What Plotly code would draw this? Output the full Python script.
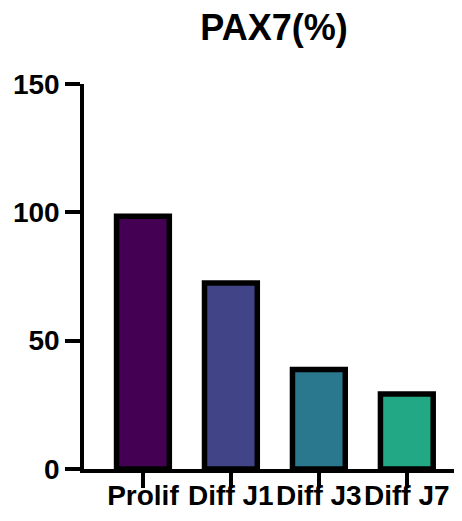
import plotly.graph_objects as go

# PAX7 percentage per condition
conditions = ["Prolif", "Diff J1", "Diff J3", "Diff J7"]
pax7_pct = [98.5, 72.5, 38.8, 29.2]
bar_colors = ["#440154", "#414487", "#2A788E", "#22A884"]
y_ticks = [0, 50, 100, 150]

font_fam = "Arial, Liberation Sans, sans-serif"

fig = go.Figure()
fig.add_trace(go.Bar(
    x=conditions,
    y=pax7_pct,
    width=0.6,
    marker=dict(color=bar_colors, line=dict(color="black", width=5.5)),
    hoverinfo="skip",
))

fig.update_layout(
    width=462, height=521,
    margin=dict(l=76, r=6, t=76, b=60, autoexpand=False),
    plot_bgcolor="white",
    paper_bgcolor="white",
    showlegend=False,
    title=dict(
        text="<b>PAX7(%)</b>",
        x=0.5, xref="paper", xanchor="center",
        y=0.9635, yref="container", yanchor="middle",
        font=dict(family=font_fam, size=36, color="black"),
    ),
)
fig.update_xaxes(
    type="category",
    range=[-0.67, 3.65],
    automargin=False,
    showline=True, linecolor="black", linewidth=3.5,
    ticks="outside", ticklen=15, tickwidth=3.5, tickcolor="black",
    tickangle=0,
    tickvals=conditions,
    ticktext=[f"<b>{c}</b>" for c in conditions],
    tickfont=dict(family=font_fam, size=28, color="black"),
    ticklabelstandoff=-16,
    showgrid=False, zeroline=False,
)
fig.update_yaxes(
    range=[0, 150],
    automargin=False,
    tickvals=y_ticks,
    ticktext=[f"<b>{v}</b>" for v in y_ticks],
    showline=True, linecolor="black", linewidth=3.5,
    ticks="outside", ticklen=15, tickwidth=3.5, tickcolor="black",
    tickfont=dict(family=font_fam, size=28, color="black"),
    showgrid=False, zeroline=False,
)

fig.write_html("out.html")
